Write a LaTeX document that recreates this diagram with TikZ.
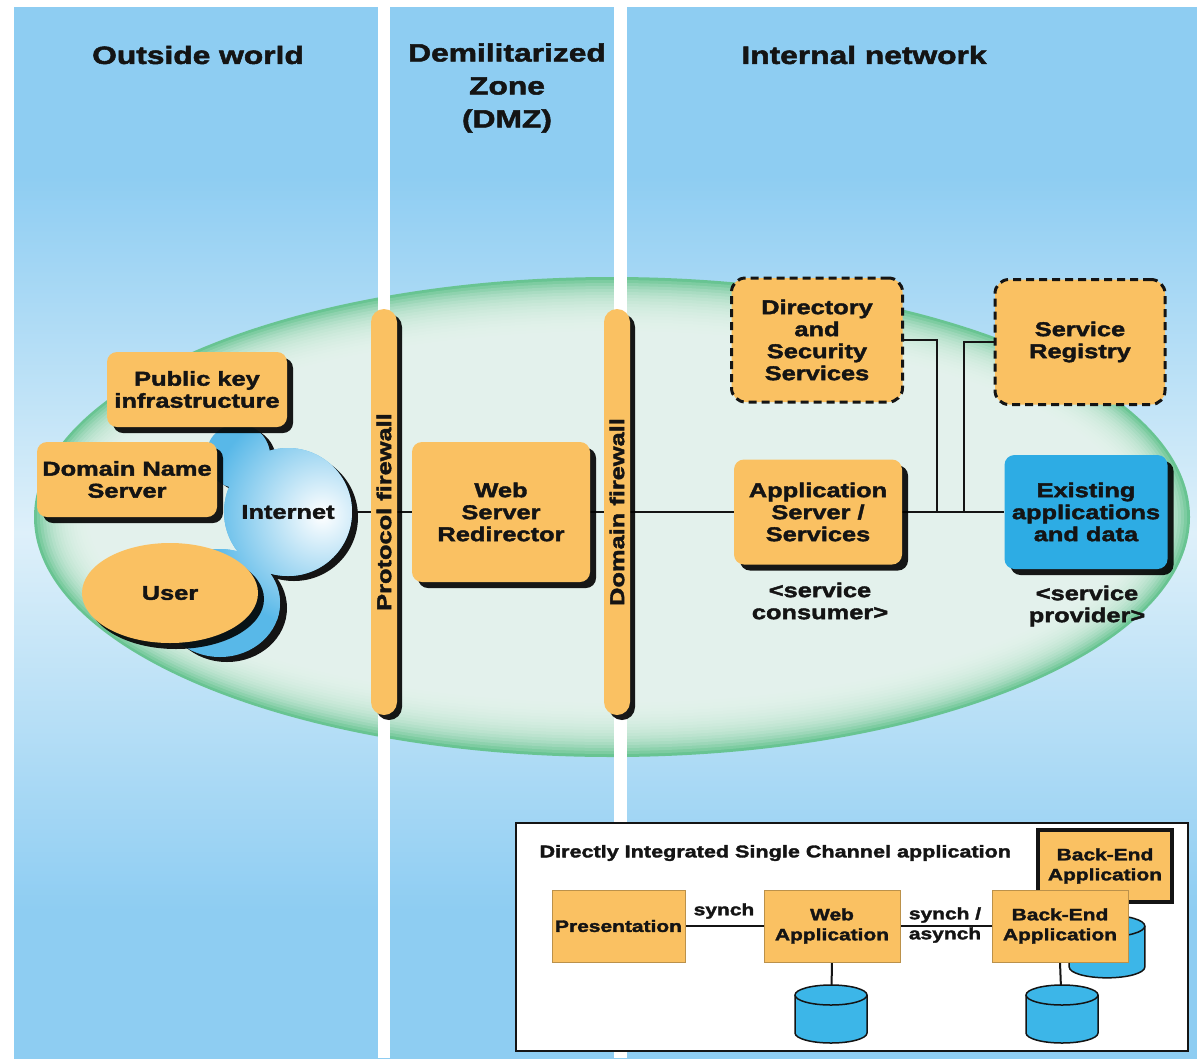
\documentclass[tikz,border=0pt]{standalone}
\usepackage{fontspec}
\setmainfont{Liberation Sans}[FakeStretch=1.27, FakeBold=2]
\usetikzlibrary{shapes.geometric, shadows, calc}
\pgfdeclarelayer{bg}
\pgfdeclarelayer{lines}
\pgfsetlayers{bg,lines,main}
\definecolor{bgblue}{RGB}{142,205,242}
\definecolor{bglight}{RGB}{222,240,250}
\definecolor{ellgreen}{RGB}{104,196,146}
\definecolor{ellpale}{RGB}{236,247,243}
\definecolor{orng}{RGB}{250,193,98}
\definecolor{exblue}{RGB}{45,172,228}
\definecolor{cylblue}{RGB}{60,182,232}
\definecolor{cloudblue}{RGB}{88,184,232}
\definecolor{ink}{RGB}{20,20,20}
\pgfdeclareverticalshading{bgshade}{100bp}{color(0bp)=(bgblue); color(32bp)=(bgblue); color(50bp)=(bglight); color(67bp)=(bgblue); color(100bp)=(bgblue)}
\begin{document}
\begin{tikzpicture}[x=1pt,y=-1pt,
  txt/.style={font=\fontsize{20}{22}\selectfont\bfseries, text=ink, align=center},
  obox/.style={txt, fill=orng, rounded corners=10pt, inner sep=0pt,
     drop shadow={shadow xshift=6pt, shadow yshift=-6pt, fill=black, opacity=0.9}},
  dbox/.style={txt, draw=ink, fill=orng, line width=3pt, dash pattern=on 8pt off 5pt,
     rounded corners=14pt, inner sep=0pt},
  fwbar/.style={txt, fill=orng, rounded corners=13pt, minimum width=26pt, minimum height=406pt,
     inner sep=0pt, drop shadow={shadow xshift=5pt, shadow yshift=-5pt, fill=black, opacity=0.9}},
  hdr/.style={font=\fontsize{25}{33}\selectfont\bfseries, text=ink, align=center},
  small/.style={font=\fontsize{16.5}{20}\selectfont\bfseries, text=ink, align=center},
  sbox/.style={small, fill=orng, draw=orng!75!black, line width=0.8pt, inner sep=0pt},
  conn/.style={draw=ink, line width=2pt},
  dbcyl/.pic={
    \path[draw=ink, line width=1.5pt, fill=cylblue]
      (-36,-19) -- (-36,19) arc[start angle=180, end angle=360, x radius=36pt, y radius=10pt]
      -- (36,-19) arc[start angle=0, end angle=180, x radius=36pt, y radius=10pt] -- cycle;
    \draw[ink, line width=1.5pt] (-36,-19) arc[start angle=180, end angle=360, x radius=36pt, y radius=10pt];
  }
]
\useasboundingbox (0,0) rectangle (1197,1058);

% ---------- background layer ----------
\begin{pgfonlayer}{bg}
  \fill[white] (0,0) rectangle (1197,1058);
  \shade[shading=bgshade] (14,7) rectangle (1197,1058);
  \fill[ellgreen] (612,517) ellipse [x radius=578pt, y radius=240pt];
  \foreach \k in {3,6,...,54}
    \fill[ellpale, opacity=0.16] (612,517) ellipse [x radius={(578-\k)*1pt}, y radius={(240-\k)*1pt}];
  \fill[white] (378,0) rectangle (390,1058);
  \fill[white] (614,0) rectangle (627,1058);
  % Internet cloud
  \fill[ink] (244,460) circle (32pt) (294,517) circle (64pt) (227,608) ellipse [x radius=60pt, y radius=54pt];
  \begin{scope}
    \clip (238,456) circle (32pt) (288,512) circle (64pt) (220,603) ellipse [x radius=60pt, y radius=54pt];
    \fill[cloudblue] (100,380) rectangle (400,700);
    \shade[inner color=white, outer color=cloudblue] (322,515) circle (115pt);
  \end{scope}
  % bottom frame
  \node[draw=ink, line width=2pt, fill=white, minimum width=672pt, minimum height=228pt, inner sep=0pt] (frame) at (852,937) {};
\end{pgfonlayer}

% ---------- headers ----------
\node[hdr] (h1) at (198,55) {Outside world};
\node[hdr] (h2) at (507,88) {Demilitarized\\Zone\\(DMZ)};
\node[hdr] (h3) at (864,55) {Internal network};

% ---------- outside world ----------
\node[obox, minimum width=180pt, minimum height=75pt] (pki) at (197,389.5) {Public key\\infrastructure};
\node[obox, minimum width=180pt, minimum height=75pt] (dns) at (127,479.5) {Domain Name\\Server};
\node[obox, ellipse, minimum width=176pt, minimum height=100pt] (user) at (170,593) {User};
\node[txt, minimum width=128pt, minimum height=128pt, inner sep=0pt] (inet) at (288,512) {Internet};

% ---------- firewalls & DMZ ----------
\node[fwbar] (pfw) at (384,512) {\rotatebox{90}{Protocol firewall}};
\node[fwbar] (dfw) at (617,512) {\rotatebox{90}{Domain firewall}};
\node[obox, minimum width=178pt, minimum height=140pt] (websrv) at (501,512) {Web\\Server\\Redirector};

% ---------- internal network ----------
\node[obox, minimum width=168pt, minimum height=105pt] (appsrv) at (818,512) {Application\\Server /\\Services};
\node[obox, fill=exblue, minimum width=163pt, minimum height=114pt] (exist) at (1086,512) {Existing\\applications\\and data};
\node[dbox, minimum width=171pt, minimum height=124pt] (dirsec) at (817,340) {Directory\\and\\Security\\Services};
\node[dbox, minimum width=170pt, minimum height=125pt] (reg) at (1080,342) {Service\\Registry};
\node[txt] (cons) at (820,601) {<service\\consumer>};
\node[txt] (prov) at (1087,606) {<service\\provider>};
\coordinate (j1) at (937,512);
\coordinate (j2) at (964,512);

% ---------- bottom box ----------
\node[small, anchor=west, font=\fontsize{17}{20}\selectfont\bfseries] (title) at (536,853) {Directly Integrated Single Channel application};
\node[sbox, minimum width=133pt, minimum height=72pt] (pres) at (618.5,926) {Presentation};
\node[sbox, minimum width=136pt, minimum height=72pt] (webapp) at (832,926) {Web\\Application};
\node[sbox, draw=ink, line width=4pt, minimum width=134pt, minimum height=72pt] (beback) at (1105,866) {Back-End\\Application};
\coordinate (cyl3) at (1107,946.5);
\pic[xscale=1.05, yscale=1.08] at (cyl3) {dbcyl};
\node[sbox, minimum width=136pt, minimum height=72pt] (befront) at (1060,926) {Back-End\\Application};
\coordinate (cyl1) at (831,1014);
\coordinate (cyl2) at (1062,1014);
\pic at (cyl1) {dbcyl};
\pic at (cyl2) {dbcyl};
\node[small] (lbl1) at (724,911) {synch};
\node[small] (lbl2) at (945,925) {synch /\\asynch};

% ---------- connectors ----------
\begin{pgfonlayer}{lines}
  \draw[conn] (inet.east) -- (websrv.west);
  \draw[conn] (websrv.east) -- (appsrv.west);
  \draw[conn] (appsrv.east) -- (exist.west);
  \draw[conn] (dirsec.east) -| (j1);
  \draw[conn] (reg.west) -| (j2);
  \draw[conn] (pres.east) -- (webapp.west);
  \draw[conn] (webapp.east) -- (befront.west);
  \draw[conn] (webapp.south) -- (cyl1);
  \draw[conn] (befront.south) -- (cyl2);
\end{pgfonlayer}
\end{tikzpicture}
\end{document}
